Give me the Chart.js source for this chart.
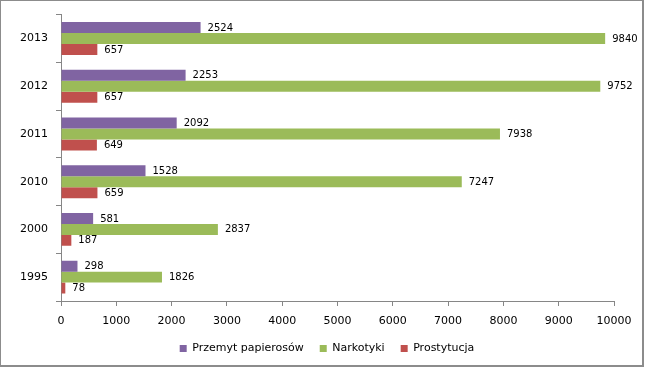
<!DOCTYPE html>
<html>
<head>
<meta charset="utf-8">
<script src="https://cdn.jsdelivr.net/npm/chart.js@4"></script>
<style>
  body { margin: 0; background: #fff; }
  #frame {
    position: absolute; left: 0; top: 0;
    width: 644px; height: 367px;
    border: 1px solid #8c8c8c;
    border-right: 2px solid #8c8c8c;
    border-bottom: 2px solid #8c8c8c;
    box-sizing: border-box;
  }
  #wrap { position: absolute; left: 0; top: 0; width: 645px; height: 369px; }
</style>
</head>
<body>
<div id="frame"></div>
<div id="wrap"><canvas id="barchart"></canvas></div>
<script>
// Years (top to bottom) and values per series
const years = ["2013", "2012", "2011", "2010", "2000", "1995"];
const cigarettes = [2524, 2253, 2092, 1528, 581, 298]; // Przemyt papierosów
const drugs = [9840, 9752, 7938, 7247, 2837, 1826]; // Narkotyki
const prostitution = [657, 657, 649, 659, 187, 78]; // Prostytucja
const xTicks = [0, 1000, 2000, 3000, 4000, 5000, 6000, 7000, 8000, 9000, 10000];

const FONT = "'DejaVu Sans', Verdana, sans-serif";

// value labels at the end of each bar
const barLabels = {
  id: "barLabels",
  afterDatasetsDraw(chart) {
    const ctx = chart.ctx;
    ctx.save();
    ctx.font = "10px " + FONT;
    ctx.fillStyle = "#000";
    ctx.textBaseline = "middle";
    ctx.textAlign = "left";
    chart.data.datasets.forEach((ds, i) => {
      chart.getDatasetMeta(i).data.forEach((bar, j) => {
        ctx.fillText(String(ds.data[j]), bar.x + 7, bar.y + 0.5);
      });
    });
    ctx.restore();
  },
};

// legend is centred on the whole canvas, not on the padded area
const legendShift = {
  id: "legendShift",
  afterLayout(chart) {
    chart.legend.left += 20;
    chart.legend.right += 20;
  },
};

const barctx = document.getElementById("barchart");

new Chart(barctx, {
  type: "bar",
  data: {
    labels: years,
    datasets: [
      {
        label: "Przemyt papierosów",
        data: cigarettes,
        backgroundColor: "#8064A2",
      },
      {
        label: "Narkotyki",
        data: drugs,
        backgroundColor: "#9BBB59",
      },
      {
        label: "Prostytucja",
        data: prostitution,
        backgroundColor: "#C0504D",
      },
    ],
  },
  plugins: [barLabels, legendShift],
  options: {
    indexAxis: "y",
    responsive: true,
    maintainAspectRatio: false,
    animation: false,
    barPercentage: 1,
    categoryPercentage: 0.69,
    layout: {
      padding: { left: 0, right: 31, top: 14, bottom: 5 },
    },
    plugins: {
      legend: {
        position: "bottom",
        labels: {
          boxWidth: 7,
          boxHeight: 7,
          padding: 16,
          color: "#000",
          font: { family: FONT, size: 11 },
        },
      },
      tooltip: { enabled: false },
    },
    scales: {
      x: {
        min: 0,
        max: 10000,
        afterBuildTicks: (scale) => {
          scale.ticks = xTicks.map((v) => ({ value: v }));
        },
        afterFit: (scale) => {
          scale.height = 26;
        },
        grid: {
          drawOnChartArea: false,
          drawTicks: true,
          tickLength: 5,
          tickColor: "#868686",
        },
        border: { display: true, color: "#868686" },
        ticks: {
          padding: 9,
          color: "#000",
          font: { family: FONT, size: 11 },
          callback: (v) => String(v),
        },
      },
      y: {
        afterFit: (scale) => {
          scale.width = 61;
        },
        grid: {
          offset: true,
          drawOnChartArea: false,
          drawTicks: true,
          tickLength: 5,
          tickColor: "#868686",
        },
        border: { display: true, color: "#868686" },
        ticks: {
          padding: 8,
          color: "#000",
          font: { family: FONT, size: 11 },
        },
      },
    },
  },
});
</script>
</body>
</html>
